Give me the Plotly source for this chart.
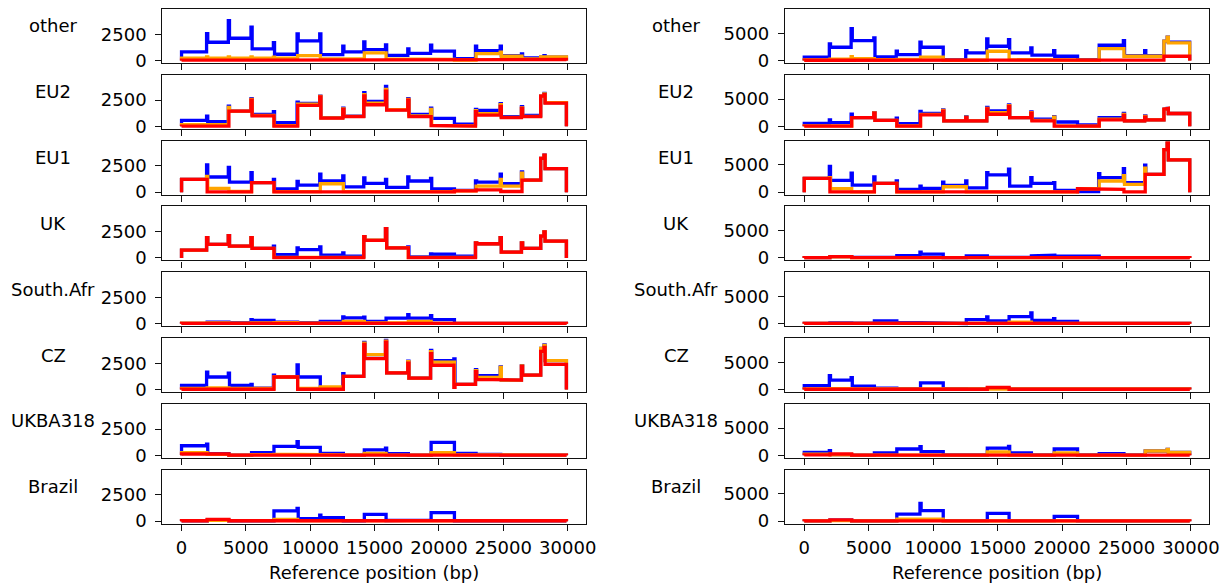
import plotly.graph_objects as go

N = None
# amplicon boundaries (bp)
BOUNDS = [0, 1990, 3680, 5440, 7180, 9020, 10780, 12570, 14200, 15890, 17620,
          19390, 21200, 22880, 24800, 26450, 27900, 28200, 29900]
REGIONS = ["other", "EU2", "EU1", "UK", "South.Afr", "CZ", "UKBA318", "Brazil"]
X_TICKS = [0, 5000, 10000, 15000, 20000, 25000, 30000]
X_TICK_TEXT = ["0", "5000", "10000", "15000", "20000", "25000", "30000"]
Y_TICKS_LEFT = [0, 2500]
Y_TICKS_RIGHT = [0, 5000]
X_LABEL = "Reference position (bp)"

# ---------------- left column ----------------
l_other_blue = [830, 1740, 2120, 1110, 600, 1870, 570, 830, 1045, 500, 690, 886, 190, 950, 475, 250, 320, 320]
l_other_blue_spk = [2566, 3800, 3165, 1711, 2540, 2540, 1360, 1775, 1490, 1110, 1456, N, 1360, 1360, 630, N, 475]
l_other_orange = [220, 220, 220, 220, 220, 475, 150, 150, 730, 150, 150, 100, 50, 660, 410, 150, 350, 350]
l_other_orange_spk = [350, 350, 350, 320, N, N, N, N, N, N, N, N, N, 800, N, N, 420]
l_other_red = [40, 40, 40, 40, 40, 40, 40, 40, 40, 40, 40, 40, 40, 40, 40, 100, 100, 100]
l_other_red_spk = [N] * 17

l_eu2_blue = [570, 443, 1455, 1140, 350, 2180, 820, 980, 2370, 1580, 1140, 760, 220, 1520, 920, 1045, 2880, 2250]
l_eu2_blue_spk = [980, 1930, 2626, 1390, 2310, 2880, 1740, 3200, 3800, 2630, 1740, N, 1610, 2150, 1870, N, 3130]
l_eu2_orange = [150, 150, 1455, 1044, 60, 2100, 800, 940, 2200, 1580, 1000, 100, 50, 1200, 850, 940, 2880, 2250]
l_eu2_orange_spk = [N, 1800, 2550, N, N, 2850, 1650, 3000, 3500, 2550, 1600, N, 1500, 2050, 1750, N, 3080]
l_eu2_red = [30, 30, 1455, 1000, 30, 2000, 780, 920, 2050, 1550, 920, 80, 30, 1075, 820, 920, 2880, 2200]
l_eu2_red_spk = [N, N, 2500, N, N, 2800, 1600, 2900, 3350, 2500, N, N, 1400, 1900, 1700, N, 3000]

l_eu1_blue = [1218, 1440, 960, 900, 320, 670, 1060, 510, 830, 450, 1060, 320, 160, 960, 800, 1150, 3200, 2240]
l_eu1_blue_spk = [2600, 2340, 1860, 1220, 1030, 1700, 1540, 1350, 1220, 1440, 1310, N, 1060, 1700, 1920, N, 3525]
l_eu1_orange = [1218, 350, 60, 900, 50, 50, 800, 50, 50, 50, 50, 50, 130, 580, 580, 1150, 3200, 2240]
l_eu1_orange_spk = [1500, N, N, N, N, N, N, N, N, N, N, N, N, 1200, 1800, N, 3500]
l_eu1_red = [1218, 30, 30, 900, 40, 30, 30, 30, 30, 30, 30, 30, 130, 220, 60, 1150, 3200, 2240]
l_eu1_red_spk = [N, N, N, N, N, N, N, N, N, N, N, N, N, N, N, N, 3525]

l_uk_blue = [740, 1280, 1120, 900, 320, 800, 260, 160, 1670, 960, 100, 350, 160, 1350, 545, 900, 2080, 1600]
l_uk_blue_spk = [1920, 2130, 1920, 1120, 960, 1060, 480, 2020, 2790, 1060, 385, N, 1440, 1920, 1440, N, 2470]
l_uk_orange = [740, 1280, 1120, 900, 60, 60, 60, 60, 1700, 960, 50, 50, 50, 1350, 545, 900, 2080, 1600]
l_uk_orange_spk = [1920, 2130, 1920, N, N, N, N, 2020, 2790, N, N, N, 1440, 1920, 1440, N, 2470]
l_uk_red = [740, 1280, 1120, 900, 30, 30, 30, 30, 1670, 960, 30, 30, 30, 1350, 545, 900, 2080, 1600]
l_uk_red_spk = [1920, 2130, 1920, N, N, N, N, 2020, 2790, N, N, N, 1440, 1920, 1440, N, 2470]

l_saf_blue = [30, 150, 100, 310, 150, 100, 220, 560, 220, 530, 530, 400, 30, 30, 30, 30, 30, 30]
l_saf_blue_spk = [N, N, 400, N, N, N, 650, 620, N, 870, 780, N, N, N, N, N, N]
l_saf_orange = [50, 80, 50, 80, 100, 50, 50, 220, 80, 100, 220, 60, 30, 30, 30, 30, 30, 30]
l_saf_orange_spk = [N] * 17
l_saf_red = [30, 30, 30, 30, 30, 30, 30, 30, 30, 30, 30, 30, 30, 30, 30, 30, 30, 30]
l_saf_red_spk = [N] * 17

l_cz_blue = [400, 1190, 400, 125, 1190, 1190, 190, 1250, 3310, 1590, 1090, 2750, 500, 1310, 900, 1375, 3900, 2750]
l_cz_blue_spk = [1650, 1560, 500, 1375, 2340, N, 1500, 4470, 4660, 2690, 3720, 2900, 1900, 2150, 2280, N, 4250]
l_cz_orange = [100, 150, 100, 100, 1190, 100, 250, 1250, 3310, 1590, 1090, 2600, 500, 1150, 900, 1375, 3900, 2750]
l_cz_orange_spk = [N, N, N, N, N, N, N, 4400, 4600, 2650, 3600, N, 1800, 2100, 2250, N, 4200]
l_cz_red = [30, 30, 30, 30, 1190, 30, 30, 1250, 2940, 1590, 1090, 2310, 500, 970, 900, 1375, 3620, 2400]
l_cz_red_spk = [N, N, N, N, N, N, N, 4300, 4500, 2500, 3400, 200, 1700, N, 2200, N, 4000]

l_ukba_blue = [910, 160, 30, 260, 845, 750, 195, 30, 520, 160, 30, 1230, 195, 100, 30, 30, 30, 30]
l_ukba_blue_spk = [1070, N, N, N, 1300, N, N, N, 680, N, N, N, N, N, N, N, N]
l_ukba_orange = [260, 100, 30, 60, 80, 80, 50, 30, 195, 50, 30, 260, 50, 40, 30, 30, 30, 30]
l_ukba_orange_spk = [N] * 17
l_ukba_red = [130, 130, 30, 30, 30, 30, 30, 30, 30, 30, 30, 30, 30, 30, 30, 30, 30, 30]
l_ukba_red_spk = [N] * 17

l_bra_blue = [30, 100, 30, 30, 975, 230, 325, 30, 650, 60, 100, 810, 30, 30, 30, 30, 30, 30]
l_bra_blue_spk = [N, N, N, N, 1200, 580, N, N, N, N, N, N, N, N, N, N, N]
l_bra_orange = [50, 80, 50, 50, 160, 60, 50, 50, 80, 50, 50, 60, 50, 50, 50, 50, 50, 50]
l_bra_orange_spk = [N] * 17
l_bra_red = [40, 160, 40, 40, 40, 40, 40, 40, 40, 40, 40, 40, 40, 40, 40, 40, 40, 40]
l_bra_red_spk = [N] * 17

# ---------------- right column ----------------
r_other_blue = [610, 2440, 3660, 670, 1100, 2440, 180, 1400, 2620, 1400, 980, 790, 180, 2800, 910, 910, 3540, 3350]
r_other_blue_spk = [3050, 5850, 4150, 1700, 3350, N, 1830, 3960, 3840, 2320, 1830, N, N, 3660, 1830, N, 4270]
r_other_orange = [100, 250, 350, 150, 200, 610, 50, 50, 1700, 150, 100, 80, 50, 2200, 790, 790, 3540, 3230]
r_other_orange_spk = [N, 700, N, N, N, N, N, N, N, N, N, N, N, N, N, N, 4270]
r_other_red = [50, 50, 50, 50, 50, 50, 50, 50, 50, 50, 50, 50, 50, 50, 50, 100, 790, 790]
r_other_red_spk = [N] * 17

r_eu2_blue = [550, 680, 1600, 1110, 490, 2350, 990, 990, 2840, 1600, 1300, 800, 250, 1600, 990, 1170, 3150, 2350]
r_eu2_blue_spk = [1170, 2220, 2530, 1480, 2720, 3020, 1790, 3460, 3950, 2650, 1790, N, N, 2350, 1910, N, 3270]
r_eu2_orange = [100, 100, 1600, 1110, 80, 2200, 990, 990, 2500, 1600, 1100, 80, 50, 1300, 990, 1170, 3150, 2350]
r_eu2_orange_spk = [N, N, 2450, N, N, 2900, 1700, 3300, 3800, 2500, 1700, N, N, 2200, 1800, N, 3270]
r_eu2_red = [50, 50, 1600, 1110, 50, 2100, 990, 990, 2220, 1600, 990, 50, 50, 1170, 990, 1170, 3150, 2350]
r_eu2_red_spk = [N, N, 2400, N, N, 2800, 1600, 3200, 3640, 2400, N, N, N, 2000, 1700, N, 3270]

r_eu1_blue = [2530, 2160, 1300, 1600, 490, 680, 1230, 800, 3150, 1110, 1600, 310, 100, 2650, 1730, 3270, 7780, 5930]
r_eu1_blue_spk = [4700, 3460, 2780, 2040, 1110, 1850, 2040, 3580, 4200, 2650, 1730, N, 3400, 4320, 4940, N, 8990]
r_eu1_orange = [2530, 620, 50, 1600, 50, 50, 990, 50, 50, 50, 50, 50, 620, 2040, 1420, 3270, 7780, 5930]
r_eu1_orange_spk = [2650, N, N, N, N, N, N, N, N, N, N, N, N, 3000, 4400, N, 8990]
r_eu1_red = [2530, 50, 50, 1600, 50, 50, 190, 50, 50, 50, 50, 50, 620, 490, 50, 3270, 7780, 5930]
r_eu1_red_spk = [N, N, N, N, N, N, N, N, N, N, N, N, N, N, N, N, 8990]

r_uk_blue = [50, 250, 100, 100, 440, 690, 50, 375, 100, 100, 375, 310, 310, 50, 50, 50, 50, 50]
r_uk_blue_spk = [N, N, N, N, 1060, N, N, N, N, N, 500, N, N, N, N, N, N]
r_uk_orange = [50, 200, 50, 50, 50, 50, 50, 50, 50, 50, 50, 50, 50, 50, 50, 50, 50, 50]
r_uk_orange_spk = [N] * 17
r_uk_red = [50, 250, 50, 50, 50, 50, 50, 50, 50, 50, 50, 50, 50, 50, 50, 50, 50, 50]
r_uk_red_spk = [N] * 17

r_saf_blue = [50, 150, 100, 500, 200, 200, 50, 750, 500, 1310, 625, 440, 50, 50, 50, 50, 50, 50]
r_saf_blue_spk = [N, N, N, N, N, N, N, 1250, N, 2000, 940, N, N, N, N, N, N]
r_saf_orange = [50, 50, 50, 50, 50, 50, 50, 50, 50, 310, 50, 50, 50, 50, 50, 50, 50, 50]
r_saf_orange_spk = [N] * 17
r_saf_red = [50, 50, 190, 50, 50, 50, 50, 50, 50, 50, 50, 50, 50, 50, 50, 50, 50, 50]
r_saf_red_spk = [N] * 17

r_cz_blue = [730, 1710, 610, 240, 150, 1220, 150, 100, 200, 100, 100, 100, 100, 240, 100, 100, 100, 100]
r_cz_blue_spk = [2560, 2200, N, N, N, N, N, N, N, N, N, N, N, N, N, N, N]
r_cz_orange = [100, 150, 100, 100, 100, 100, 100, 100, 150, 100, 100, 100, 100, 150, 150, 150, 100, 100]
r_cz_orange_spk = [N] * 17
r_cz_red = [50, 50, 50, 50, 50, 50, 50, 50, 370, 50, 50, 50, 50, 50, 50, 50, 50, 50]
r_cz_red_spk = [N] * 17

r_ukba_blue = [550, 150, 50, 430, 1160, 670, 80, 80, 1340, 430, 80, 1160, 80, 300, 80, 800, 800, 550]
r_ukba_blue_spk = [850, N, N, N, 1590, N, N, N, 1650, N, N, N, N, N, N, N, 1100]
r_ukba_orange = [200, 100, 50, 50, 80, 80, 50, 50, 610, 50, 50, 430, 50, 80, 50, 800, 800, 550]
r_ukba_orange_spk = [N, N, N, N, N, N, N, N, N, N, N, N, N, N, N, N, 1100]
r_ukba_red = [100, 250, 50, 50, 50, 50, 50, 50, 50, 50, 50, 50, 50, 50, 50, 50, 50, 50]
r_ukba_red_spk = [N] * 17

r_bra_blue = [50, 200, 50, 50, 1300, 1910, 80, 80, 1420, 100, 100, 860, 50, 50, 50, 50, 50, 50]
r_bra_blue_spk = [N, N, N, N, 3270, N, N, N, N, N, N, N, N, N, N, N, N]
r_bra_orange = [50, 100, 50, 50, 370, 370, 50, 50, 200, 50, 50, 50, 50, 50, 50, 50, 50, 50]
r_bra_orange_spk = [N] * 17
r_bra_red = [50, 250, 50, 50, 50, 50, 50, 50, 50, 50, 50, 50, 50, 50, 50, 50, 50, 50]
r_bra_red_spk = [N] * 17

LEFT = [
    (l_other_blue, l_other_blue_spk, l_other_orange, l_other_orange_spk, l_other_red, l_other_red_spk),
    (l_eu2_blue, l_eu2_blue_spk, l_eu2_orange, l_eu2_orange_spk, l_eu2_red, l_eu2_red_spk),
    (l_eu1_blue, l_eu1_blue_spk, l_eu1_orange, l_eu1_orange_spk, l_eu1_red, l_eu1_red_spk),
    (l_uk_blue, l_uk_blue_spk, l_uk_orange, l_uk_orange_spk, l_uk_red, l_uk_red_spk),
    (l_saf_blue, l_saf_blue_spk, l_saf_orange, l_saf_orange_spk, l_saf_red, l_saf_red_spk),
    (l_cz_blue, l_cz_blue_spk, l_cz_orange, l_cz_orange_spk, l_cz_red, l_cz_red_spk),
    (l_ukba_blue, l_ukba_blue_spk, l_ukba_orange, l_ukba_orange_spk, l_ukba_red, l_ukba_red_spk),
    (l_bra_blue, l_bra_blue_spk, l_bra_orange, l_bra_orange_spk, l_bra_red, l_bra_red_spk),
]
RIGHT = [
    (r_other_blue, r_other_blue_spk, r_other_orange, r_other_orange_spk, r_other_red, r_other_red_spk),
    (r_eu2_blue, r_eu2_blue_spk, r_eu2_orange, r_eu2_orange_spk, r_eu2_red, r_eu2_red_spk),
    (r_eu1_blue, r_eu1_blue_spk, r_eu1_orange, r_eu1_orange_spk, r_eu1_red, r_eu1_red_spk),
    (r_uk_blue, r_uk_blue_spk, r_uk_orange, r_uk_orange_spk, r_uk_red, r_uk_red_spk),
    (r_saf_blue, r_saf_blue_spk, r_saf_orange, r_saf_orange_spk, r_saf_red, r_saf_red_spk),
    (r_cz_blue, r_cz_blue_spk, r_cz_orange, r_cz_orange_spk, r_cz_red, r_cz_red_spk),
    (r_ukba_blue, r_ukba_blue_spk, r_ukba_orange, r_ukba_orange_spk, r_ukba_red, r_ukba_red_spk),
    (r_bra_blue, r_bra_blue_spk, r_bra_orange, r_bra_orange_spk, r_bra_red, r_bra_red_spk),
]

COLORS = ["#0000ff", "#ffa500", "#ff0000"]
HW = 45  # half width of an amplicon-overlap spike (bp)

W, H = 1228, 585
FONT = "DejaVu Sans, Liberation Sans, sans-serif"
FS = 18
COL_X = [(162.3, 585.7), (785.0, 1209.0)]
LABEL_X = [53, 676]
TOP0, PITCH, PH = 9.0, 65.8, 54.0
X_RANGE = [-1495, 31398]
Y_RANGES = [[-233, 4897], [-450, 9444]]
Y_TICKS = [Y_TICKS_LEFT, Y_TICKS_RIGHT]


def step_path(seg, spk):
    xs = [BOUNDS[0], BOUNDS[0]]
    ys = [0, seg[0]]
    for k in range(1, len(BOUNDS) - 1):
        b = BOUNDS[k]
        s = spk[k - 1]
        if s is None:
            xs += [b, b]
            ys += [seg[k - 1], seg[k]]
        else:
            xs += [b - HW, b - HW, b + HW, b + HW]
            ys += [seg[k - 1], s, s, seg[k]]
    xs += [BOUNDS[-1], BOUNDS[-1]]
    ys += [seg[-1], 0]
    return xs, ys


fig = go.Figure()
layout = {}
annotations = []
for c, col in enumerate([LEFT, RIGHT]):
    for r, series in enumerate(col):
        n = r * 2 + c + 1
        xa = "x" if n == 1 else f"x{n}"
        ya = "y" if n == 1 else f"y{n}"
        for i in range(3):
            xs, ys = step_path(series[2 * i], series[2 * i + 1])
            fig.add_trace(go.Scatter(
                x=xs, y=ys, mode="lines", xaxis=xa, yaxis=ya,
                line=dict(color=COLORS[i], width=3.3), showlegend=False,
                hoverinfo="skip"))
        top = TOP0 + PITCH * r
        bot = top + PH
        x0, x1 = COL_X[c]
        axis_common = dict(showline=True, mirror=True, linecolor="#111",
                           linewidth=1.2, ticks="outside", ticklen=6,
                           tickwidth=1.2, tickcolor="#111", showgrid=False,
                           zeroline=False, automargin=False,
                           tickfont=dict(family=FONT, size=FS, color="black"))
        layout["xaxis" if n == 1 else f"xaxis{n}"] = dict(
            domain=[x0 / W, x1 / W], anchor=ya, range=X_RANGE,
            tickvals=X_TICKS, ticktext=X_TICK_TEXT, showticklabels=(r == 7),
            ticklabelstandoff=2, **axis_common)
        layout["yaxis" if n == 1 else f"yaxis{n}"] = dict(
            domain=[1 - bot / H, 1 - top / H], anchor=xa, range=Y_RANGES[c],
            tickvals=Y_TICKS[c], ticklabelstandoff=5, **axis_common)
        annotations.append(dict(
            text=REGIONS[r], xref="paper", yref="paper",
            x=LABEL_X[c] / W, y=1 - (top + 17) / H,
            xanchor="center", yanchor="middle", showarrow=False,
            font=dict(family=FONT, size=FS, color="black")))
    x0, x1 = COL_X[c]
    annotations.append(dict(
        text=X_LABEL, xref="paper", yref="paper",
        x=(x0 + x1) / 2 / W, y=1 - 572 / H,
        xanchor="center", yanchor="middle", showarrow=False,
        font=dict(family=FONT, size=FS, color="black")))

fig.update_layout(**layout)
fig.update_layout(width=W, height=H,
                  margin=dict(l=0, r=0, t=0, b=0, autoexpand=False),
                  paper_bgcolor="white", plot_bgcolor="white",
                  annotations=annotations, showlegend=False)
fig.write_html("out.html")
